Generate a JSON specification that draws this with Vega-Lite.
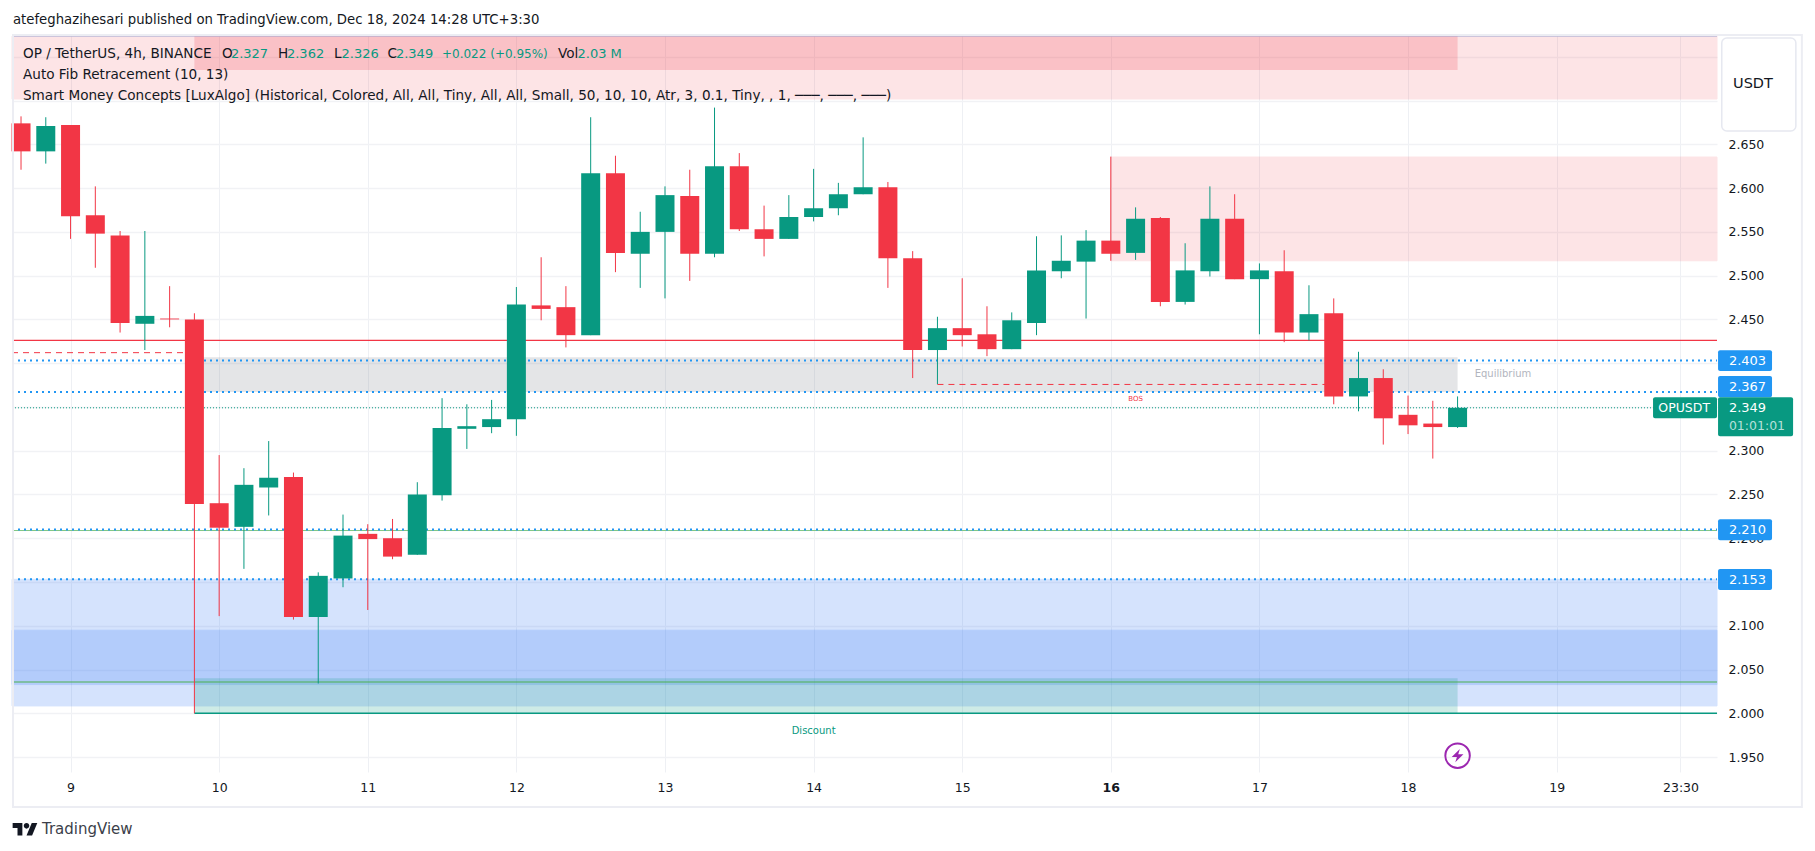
{
"$schema":"https://vega.github.io/schema/vega-lite/v6.json",
"width":1705,"height":736,
"autosize":"none",
"padding":{"left":12,"top":36,"right":98,"bottom":79},
"background":"#ffffff",
"config":{"view":{"stroke":null},"text":{"font":"DejaVu Sans"},"axis":{"labelFont":"DejaVu Sans"}},
"datasets":{
"candles":[
{"t":"2024-12-08T16:00:00Z","o":2.674,"h":2.682,"l":2.621,"c":2.642},
{"t":"2024-12-08T20:00:00Z","o":2.642,"h":2.681,"l":2.628,"c":2.671},
{"t":"2024-12-09T00:00:00Z","o":2.672,"h":2.672,"l":2.542,"c":2.568},
{"t":"2024-12-09T04:00:00Z","o":2.569,"h":2.602,"l":2.509,"c":2.548},
{"t":"2024-12-09T08:00:00Z","o":2.546,"h":2.551,"l":2.435,"c":2.446},
{"t":"2024-12-09T12:00:00Z","o":2.445,"h":2.551,"l":2.415,"c":2.454},
{"t":"2024-12-09T16:00:00Z","o":2.451,"h":2.488,"l":2.441,"c":2.450},
{"t":"2024-12-09T20:00:00Z","o":2.450,"h":2.457,"l":2.000,"c":2.239},
{"t":"2024-12-10T00:00:00Z","o":2.240,"h":2.295,"l":2.111,"c":2.212},
{"t":"2024-12-10T04:00:00Z","o":2.213,"h":2.280,"l":2.165,"c":2.261},
{"t":"2024-12-10T08:00:00Z","o":2.258,"h":2.311,"l":2.226,"c":2.269},
{"t":"2024-12-10T12:00:00Z","o":2.270,"h":2.275,"l":2.107,"c":2.110},
{"t":"2024-12-10T16:00:00Z","o":2.110,"h":2.161,"l":2.034,"c":2.157},
{"t":"2024-12-10T20:00:00Z","o":2.154,"h":2.227,"l":2.144,"c":2.203},
{"t":"2024-12-11T00:00:00Z","o":2.205,"h":2.216,"l":2.118,"c":2.199},
{"t":"2024-12-11T04:00:00Z","o":2.200,"h":2.222,"l":2.176,"c":2.179},
{"t":"2024-12-11T08:00:00Z","o":2.181,"h":2.264,"l":2.181,"c":2.250},
{"t":"2024-12-11T12:00:00Z","o":2.249,"h":2.360,"l":2.243,"c":2.326},
{"t":"2024-12-11T16:00:00Z","o":2.325,"h":2.353,"l":2.302,"c":2.328},
{"t":"2024-12-11T20:00:00Z","o":2.327,"h":2.358,"l":2.320,"c":2.336},
{"t":"2024-12-12T00:00:00Z","o":2.336,"h":2.487,"l":2.317,"c":2.467},
{"t":"2024-12-12T04:00:00Z","o":2.466,"h":2.521,"l":2.449,"c":2.462},
{"t":"2024-12-12T08:00:00Z","o":2.464,"h":2.488,"l":2.418,"c":2.432},
{"t":"2024-12-12T12:00:00Z","o":2.432,"h":2.681,"l":2.432,"c":2.617},
{"t":"2024-12-12T16:00:00Z","o":2.617,"h":2.637,"l":2.504,"c":2.526},
{"t":"2024-12-12T20:00:00Z","o":2.525,"h":2.573,"l":2.486,"c":2.550},
{"t":"2024-12-13T00:00:00Z","o":2.550,"h":2.602,"l":2.474,"c":2.592},
{"t":"2024-12-13T04:00:00Z","o":2.591,"h":2.621,"l":2.494,"c":2.525},
{"t":"2024-12-13T08:00:00Z","o":2.525,"h":2.692,"l":2.521,"c":2.625},
{"t":"2024-12-13T12:00:00Z","o":2.625,"h":2.640,"l":2.551,"c":2.553},
{"t":"2024-12-13T16:00:00Z","o":2.553,"h":2.580,"l":2.522,"c":2.542},
{"t":"2024-12-13T20:00:00Z","o":2.542,"h":2.592,"l":2.542,"c":2.567},
{"t":"2024-12-14T00:00:00Z","o":2.567,"h":2.622,"l":2.562,"c":2.577},
{"t":"2024-12-14T04:00:00Z","o":2.577,"h":2.606,"l":2.569,"c":2.593},
{"t":"2024-12-14T08:00:00Z","o":2.593,"h":2.658,"l":2.593,"c":2.601},
{"t":"2024-12-14T12:00:00Z","o":2.601,"h":2.607,"l":2.486,"c":2.520},
{"t":"2024-12-14T16:00:00Z","o":2.520,"h":2.528,"l":2.383,"c":2.415},
{"t":"2024-12-14T20:00:00Z","o":2.415,"h":2.453,"l":2.376,"c":2.440},
{"t":"2024-12-15T00:00:00Z","o":2.440,"h":2.497,"l":2.419,"c":2.432},
{"t":"2024-12-15T04:00:00Z","o":2.433,"h":2.465,"l":2.408,"c":2.416},
{"t":"2024-12-15T08:00:00Z","o":2.416,"h":2.458,"l":2.416,"c":2.449},
{"t":"2024-12-15T12:00:00Z","o":2.446,"h":2.545,"l":2.432,"c":2.506},
{"t":"2024-12-15T16:00:00Z","o":2.505,"h":2.546,"l":2.497,"c":2.517},
{"t":"2024-12-15T20:00:00Z","o":2.516,"h":2.552,"l":2.451,"c":2.540},
{"t":"2024-12-16T00:00:00Z","o":2.540,"h":2.636,"l":2.517,"c":2.525},
{"t":"2024-12-16T04:00:00Z","o":2.526,"h":2.578,"l":2.518,"c":2.565},
{"t":"2024-12-16T08:00:00Z","o":2.566,"h":2.567,"l":2.465,"c":2.470},
{"t":"2024-12-16T12:00:00Z","o":2.470,"h":2.537,"l":2.467,"c":2.506},
{"t":"2024-12-16T16:00:00Z","o":2.505,"h":2.602,"l":2.499,"c":2.565},
{"t":"2024-12-16T20:00:00Z","o":2.565,"h":2.593,"l":2.496,"c":2.496},
{"t":"2024-12-17T00:00:00Z","o":2.496,"h":2.514,"l":2.433,"c":2.506},
{"t":"2024-12-17T04:00:00Z","o":2.505,"h":2.529,"l":2.424,"c":2.435},
{"t":"2024-12-17T08:00:00Z","o":2.435,"h":2.489,"l":2.426,"c":2.456},
{"t":"2024-12-17T12:00:00Z","o":2.457,"h":2.474,"l":2.353,"c":2.362},
{"t":"2024-12-17T16:00:00Z","o":2.362,"h":2.413,"l":2.345,"c":2.383},
{"t":"2024-12-17T20:00:00Z","o":2.383,"h":2.393,"l":2.307,"c":2.337},
{"t":"2024-12-18T00:00:00Z","o":2.341,"h":2.363,"l":2.319,"c":2.329},
{"t":"2024-12-18T04:00:00Z","o":2.331,"h":2.357,"l":2.291,"c":2.327},
{"t":"2024-12-18T08:00:00Z","o":2.327,"h":2.362,"l":2.326,"c":2.349}
],
"zones":[
{"kind":"supply","t":"2024-12-08T14:32:38Z","t2":"2024-12-20T01:53:46Z","p":2.7018,"p2":2.7738},
{"kind":"supplyInner","t":"2024-12-09T20:00:00Z","t2":"2024-12-18T08:00:00Z","p":2.7349,"p2":2.7738},
{"kind":"supply","t":"2024-12-16T00:00:00Z","t2":"2024-12-20T01:53:46Z","p":2.517,"p2":2.6355},
{"kind":"equilibrium","t":"2024-12-09T20:00:00Z","t2":"2024-12-18T08:00:00Z","p":2.367,"p2":2.4069},
{"kind":"demand","t":"2024-12-08T14:32:38Z","t2":"2024-12-20T01:53:46Z","p":2.0084,"p2":2.153},
{"kind":"demand","t":"2024-12-08T14:32:38Z","t2":"2024-12-20T01:53:46Z","p":2.0328,"p2":2.0949},
{"kind":"discount","t":"2024-12-09T20:00:00Z","t2":"2024-12-18T08:00:00Z","p":2.0,"p2":2.04}
],
"levels":[
{"kind":"top","t":"2024-12-08T14:32:38Z","t2":"2024-12-20T01:53:46Z","p":2.7738},
{"kind":"strong","t":"2024-12-08T14:32:38Z","t2":"2024-12-20T01:53:46Z","p":2.426},
{"kind":"dashed","t":"2024-12-08T14:32:38Z","t2":"2024-12-09T20:00:00Z","p":2.412},
{"kind":"dashed","t":"2024-12-14T20:00:00Z","t2":"2024-12-17T12:00:00Z","p":2.3757},
{"kind":"fibLight","t":"2024-12-08T14:32:38Z","t2":"2024-12-20T01:53:46Z","p":2.2088},
{"kind":"fib","t":"2024-12-08T14:32:38Z","t2":"2024-12-20T01:53:46Z","p":2.0357},
{"kind":"blue","t":"2024-12-08T14:32:38Z","t2":"2024-12-20T01:53:46Z","p":2.403},
{"kind":"blue","t":"2024-12-08T14:32:38Z","t2":"2024-12-20T01:53:46Z","p":2.367},
{"kind":"blue","t":"2024-12-08T14:32:38Z","t2":"2024-12-20T01:53:46Z","p":2.21},
{"kind":"blue","t":"2024-12-08T14:32:38Z","t2":"2024-12-20T01:53:46Z","p":2.153},
{"kind":"last","t":"2024-12-08T14:32:38Z","t2":"2024-12-20T01:53:46Z","p":2.349},
{"kind":"low","t":"2024-12-09T20:00:00Z","t2":"2024-12-20T01:53:46Z","p":2.0}
],
"badges":[
{"kind":"blue","t":"2024-12-20T02:04:00Z","t2":"2024-12-20T10:47:00Z","p":2.391,"p2":2.4149},
{"kind":"blue","t":"2024-12-20T02:04:00Z","t2":"2024-12-20T10:47:00Z","p":2.3612,"p2":2.3852},
{"kind":"green","t":"2024-12-20T02:04:00Z","t2":"2024-12-20T14:11:00Z","p":2.3165,"p2":2.3612},
{"kind":"green","t":"2024-12-19T15:34:00Z","t2":"2024-12-20T01:54:00Z","p":2.3372,"p2":2.3612},
{"kind":"blue","t":"2024-12-20T02:04:00Z","t2":"2024-12-20T10:47:00Z","p":2.1978,"p2":2.2218},
{"kind":"blue","t":"2024-12-20T02:04:00Z","t2":"2024-12-20T10:47:00Z","p":2.1407,"p2":2.1647}
],
"badgeText":[
{"text":"2.403","t":"2024-12-20T03:49:00Z","p":2.4029},
{"text":"2.367","t":"2024-12-20T03:49:00Z","p":2.3729},
{"text":"2.349","t":"2024-12-20T03:49:00Z","p":2.349},
{"text":"2.210","t":"2024-12-20T03:49:00Z","p":2.2095},
{"text":"2.153","t":"2024-12-20T03:49:00Z","p":2.1527}
],
"legendDark":[
{"text":"OP / TetherUS, 4h, BINANCE","t":"2024-12-08T16:19:00Z","p":2.7536},
{"text":"O","t":"2024-12-10T00:27:00Z","p":2.7536},
{"text":"H","t":"2024-12-10T09:30:00Z","p":2.7536},
{"text":"L","t":"2024-12-10T18:32:00Z","p":2.7536},
{"text":"C","t":"2024-12-11T03:11:00Z","p":2.7536},
{"text":"Vol","t":"2024-12-12T06:43:00Z","p":2.7536},
{"text":"Auto Fib Retracement (10, 13)","t":"2024-12-08T16:19:00Z","p":2.7292},
{"text":"Smart Money Concepts [LuxAlgo] (Historical, Colored, All, All, Tiny, All, All, Small, 50, 10, 10, Atr, 3, 0.1, Tiny, , 1, ───, ───, ───)","t":"2024-12-08T16:19:00Z","p":2.7052}
],
"legendGreen":[
{"text":"2.327","t":"2024-12-10T01:54:00Z","p":2.7536},
{"text":"2.362","t":"2024-12-10T10:57:00Z","p":2.7536},
{"text":"2.326","t":"2024-12-10T19:46:00Z","p":2.7536},
{"text":"2.349","t":"2024-12-11T04:33:00Z","p":2.7536},
{"text":"2.03 M","t":"2024-12-12T09:52:00Z","p":2.7536}
]
},
"encoding":{
"x":{"field":"t","type":"temporal","title":null,
 "scale":{"type":"utc","domain":[1733668358000,1734659626000],"nice":false,"padding":0},
 "axis":{"title":null,"orient":"bottom","values":[1733702400000,1733788800000,1733875200000,1733961600000,1734048000000,1734134400000,1734220800000,1734307200000,1734393600000,1734480000000,1734566400000,1734638400000],
  "labelExpr":"utchours(datum.value)==20?'23:30':utcFormat(datum.value,'%-d')",
  "labelOverlap":false,"labelFlush":false,"domain":false,"ticks":false,"labelPadding":9,"labelFontSize":12.5,"labelColor":"#131722",
  "labelFontWeight":{"condition":{"test":"utcdate(datum.value)==16","value":"bold"},"value":"normal"},
  "grid":true,"gridColor":"#eef0f4","gridWidth":1}},
"y":{"field":"p","type":"quantitative","title":null,
 "scale":{"domain":[1.9329,2.7738],"nice":false,"zero":false},
 "axis":{"title":null,"orient":"right","values":[1.95,2.0,2.05,2.1,2.15,2.2,2.25,2.3,2.35,2.4,2.45,2.5,2.55,2.6,2.65,2.7,2.75],
  "labelExpr":"(datum.value==2.15||datum.value==2.35||datum.value==2.4||datum.value>=2.7)?'':format(datum.value,'.3f')",
  "domain":false,"ticks":false,"labelPadding":11,"labelFontSize":12.5,"labelColor":"#131722","grid":true,"gridColor":"#f1f2f5","gridWidth":1.5}}
},
"layer":[
{"data":{"name":"zones"},"transform":[{"filter":"datum.kind=='supply'"}],
 "mark":{"type":"rect","color":"#F23645","stroke":"#F23645","strokeWidth":1,"opacity":0.13},
 "encoding":{"x2":{"field":"t2"},"y2":{"field":"p2"}}},
{"data":{"name":"zones"},"transform":[{"filter":"datum.kind=='demand'"}],
 "mark":{"type":"rect","color":"#3176F8","stroke":"#3176F8","strokeWidth":1,"opacity":0.2},
 "encoding":{"x2":{"field":"t2"},"y2":{"field":"p2"}}},
{"data":{"name":"zones"},"transform":[{"filter":"datum.kind=='supplyInner'"}],
 "mark":{"type":"rect","color":"#F23645","opacity":0.2},
 "encoding":{"x2":{"field":"t2"},"y2":{"field":"p2"}}},
{"data":{"name":"zones"},"transform":[{"filter":"datum.kind=='equilibrium'"}],
 "mark":{"type":"rect","color":"#787B86","opacity":0.2},
 "encoding":{"x2":{"field":"t2"},"y2":{"field":"p2"}}},
{"data":{"name":"zones"},"transform":[{"filter":"datum.kind=='discount'"}],
 "mark":{"type":"rect","color":"#089981","opacity":0.2},
 "encoding":{"x2":{"field":"t2"},"y2":{"field":"p2"}}},
{"data":{"name":"levels"},"transform":[{"filter":"datum.kind=='top'"}],
 "mark":{"type":"rule","color":"#9aa3d0","strokeWidth":1},"encoding":{"x2":{"field":"t2"}}},
{"data":{"name":"levels"},"transform":[{"filter":"datum.kind=='strong'"}],
 "mark":{"type":"rule","color":"#F23645","strokeWidth":1.2},"encoding":{"x2":{"field":"t2"}}},
{"data":{"name":"levels"},"transform":[{"filter":"datum.kind=='dashed'"}],
 "mark":{"type":"rule","color":"#F23645","strokeWidth":1,"strokeDash":[6,5]},"encoding":{"x2":{"field":"t2"}}},
{"data":{"name":"levels"},"transform":[{"filter":"datum.kind=='fib'"}],
 "mark":{"type":"rule","color":"#4CAF50","strokeWidth":1.2},"encoding":{"x2":{"field":"t2"}}},
{"data":{"name":"levels"},"transform":[{"filter":"datum.kind=='fibLight'"}],
 "mark":{"type":"rule","color":"#81C784","strokeWidth":1},"encoding":{"x2":{"field":"t2"}}},
{"data":{"name":"levels"},"transform":[{"filter":"datum.kind=='low'"}],
 "mark":{"type":"rule","color":"#089981","strokeWidth":1.3},"encoding":{"x2":{"field":"t2"}}},
{"data":{"name":"levels"},"transform":[{"filter":"datum.kind=='blue'"}],
 "mark":{"type":"rule","color":"#2196F3","strokeWidth":2,"strokeDash":[2,4]},"encoding":{"x2":{"field":"t2"}}},
{"data":{"name":"levels"},"transform":[{"filter":"datum.kind=='last'"}],
 "mark":{"type":"rule","color":"#089981","strokeWidth":1,"strokeDash":[1,2]},"encoding":{"x2":{"field":"t2"}}},
{"data":{"name":"candles"},"mark":{"type":"rule","strokeWidth":1},
 "encoding":{"y":{"field":"l","type":"quantitative"},"y2":{"field":"h"},
  "color":{"condition":{"test":"datum.c>=datum.o","value":"#089981"},"value":"#F23645"}}},
{"data":{"name":"candles"},"mark":{"type":"bar","size":19},
 "encoding":{"y":{"field":"o","type":"quantitative"},"y2":{"field":"c"},
  "color":{"condition":{"test":"datum.c>=datum.o","value":"#089981"},"value":"#F23645"}}},
{"data":{"values":[{"t":"2024-12-08T14:42:00Z","t2":"2024-12-20T15:36:00Z","p":1.8929,"p2":2.7749}]},
 "mark":{"type":"rect","fillOpacity":0,"stroke":"#ecedf3","strokeWidth":2},
 "encoding":{"x2":{"field":"t2"},"y2":{"field":"p2"}}},
{"data":{"values":[{"t":"2024-12-20T02:40:00Z","t2":"2024-12-20T14:38:00Z","p":2.6652,"p2":2.7715}]},
 "mark":{"type":"rect","fill":"#ffffff","stroke":"#e6e8f0","strokeWidth":1.5,"cornerRadius":5},
 "encoding":{"x2":{"field":"t2"},"y2":{"field":"p2"}}},
{"data":{"name":"badges"},"transform":[{"filter":"datum.kind=='blue'"}],
 "mark":{"type":"rect","color":"#2196F3","cornerRadius":2},
 "encoding":{"x2":{"field":"t2"},"y2":{"field":"p2"}}},
{"data":{"name":"badges"},"transform":[{"filter":"datum.kind=='green'"}],
 "mark":{"type":"rect","color":"#089981","cornerRadius":2},
 "encoding":{"x2":{"field":"t2"},"y2":{"field":"p2"}}},
{"data":{"name":"badgeText"},"mark":{"type":"text","align":"left","baseline":"middle","color":"#ffffff","fontSize":13},
 "encoding":{"text":{"field":"text"}}},
{"data":{"values":[{"text":"01:01:01","t":"2024-12-20T03:49:00Z","p":2.3284}]},
 "mark":{"type":"text","align":"left","baseline":"middle","color":"#b5e0d9","fontSize":12.5},
 "encoding":{"text":{"field":"text"}}},
{"data":{"values":[{"text":"OPUSDT","t":"2024-12-19T20:36:00Z","p":2.3492}]},
 "mark":{"type":"text","align":"center","baseline":"middle","color":"#ffffff","fontSize":12.5},
 "encoding":{"text":{"field":"text"}}},
{"data":{"values":[{"text":"USDT","t":"2024-12-20T07:42:00Z","p":2.7189}]},
 "mark":{"type":"text","align":"center","baseline":"middle","color":"#131722","fontSize":14.5},
 "encoding":{"text":{"field":"text"}}},
{"data":{"values":[{"text":"atefeghazihesari published on TradingView.com, Dec 18, 2024 14:28 UTC+3:30","t":"2024-12-08T14:42:00Z","p":2.7924}]},
 "mark":{"type":"text","align":"left","baseline":"middle","color":"#131722","fontSize":13.25},
 "encoding":{"text":{"field":"text"}}},
{"data":{"name":"legendDark"},"mark":{"type":"text","align":"left","baseline":"middle","color":"#131722","fontSize":13.6},
 "encoding":{"text":{"field":"text"}}},
{"data":{"name":"legendGreen"},"mark":{"type":"text","align":"left","baseline":"middle","color":"#089981","fontSize":13},
 "encoding":{"text":{"field":"text"}}},
{"data":{"values":[{"text":"+0.022 (+0.95%)","t":"2024-12-11T11:59:00Z","p":2.7536}]},
 "mark":{"type":"text","align":"left","baseline":"middle","color":"#089981","fontSize":12},
 "encoding":{"text":{"field":"text"}}},
{"data":{"values":[{"text":"TradingView","t":"2024-12-08T19:23:00Z","p":1.8674}]},
 "mark":{"type":"text","align":"left","baseline":"middle","color":"#3c3f4a","fontSize":15},
 "encoding":{"text":{"field":"text"}}},
{"data":{"values":[{"text":"Equilibrium","t":"2024-12-18T15:20:00Z","p":2.3875}]},
 "mark":{"type":"text","align":"center","baseline":"middle","color":"#b2b5be","fontSize":10},
 "encoding":{"text":{"field":"text"}}},
{"data":{"values":[{"text":"Discount","t":"2024-12-14T00:00:00Z","p":1.9794}]},
 "mark":{"type":"text","align":"center","baseline":"middle","color":"#089981","fontSize":10},
 "encoding":{"text":{"field":"text"}}},
{"data":{"values":[{"text":"BOS","t":"2024-12-16T04:00:00Z","p":2.3585}]},
 "mark":{"type":"text","align":"center","baseline":"middle","color":"#F23645","fontSize":7},
 "encoding":{"text":{"field":"text"}}},
{"data":{"values":[{"t":"2024-12-18T08:00:00Z","p":1.9516}]},
 "mark":{"type":"point","shape":"circle","size":600,"filled":false,"stroke":"#9C27B0","strokeWidth":2,"opacity":1},
 "encoding":{}},
{"data":{"values":[{"t":"2024-12-18T08:00:00Z","p":1.9516}]},
 "mark":{"type":"point","shape":"M0.35,-1 L-0.9,0.2 L-0.1,0.2 L-0.35,1 L0.9,-0.2 L0.1,-0.2 Z","size":170,"filled":true,"fill":"#9C27B0","strokeWidth":0,"opacity":1},
 "encoding":{}},
{"data":{"values":[{"t":"2024-12-08T16:40:00Z","p":1.8674}]},
 "mark":{"type":"point","shape":"M-0.222,0.5 H-0.611 V-0.111 H-1 V-0.5 H-0.222 Z M0.556,0.5 H0.111 L0.528,-0.5 H0.972 Z M0.333,-0.278 A0.222,0.222 0 1 1 -0.111,-0.278 A0.222,0.222 0 1 1 0.333,-0.278 Z","size":625,"filled":true,"fill":"#131722","strokeWidth":0,"opacity":1},
 "encoding":{}}
]
}
